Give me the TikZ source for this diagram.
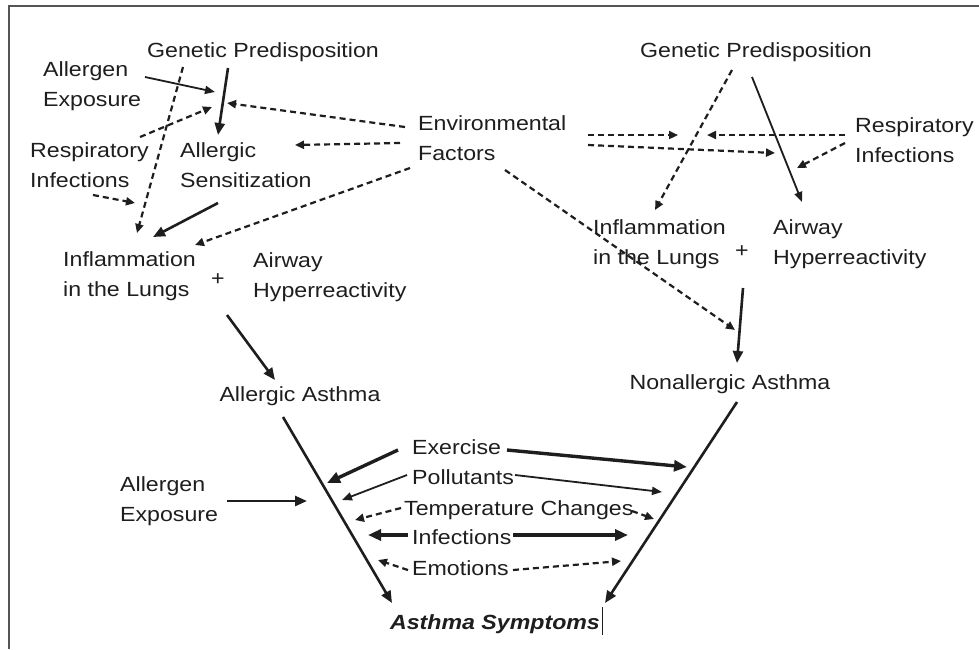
\documentclass[tikz,border=0pt]{standalone}
\usepackage{fontspec}
\setmainfont{Liberation Sans}[FakeStretch=1.13]
\usetikzlibrary{arrows.meta}
\definecolor{ink}{HTML}{1E1E1E}
\definecolor{frame}{HTML}{555555}
\begin{document}
\begin{tikzpicture}[x=1pt,y=-1pt,
  lbl/.style={inner sep=0pt,text=ink,font=\fontsize{20.5}{29.5}\selectfont},
  lbll/.style={lbl,align=left,anchor=west},
  thk/.style={draw=ink,line width=3.4pt,-{Triangle[length=13pt,width=11pt]}},
  med/.style={draw=ink,line width=2.6pt,-{Triangle[length=12pt,width=10pt]}},
  thn/.style={draw=ink,line width=1.8pt,-{Triangle[length=10pt,width=8pt]}},
  dsh/.style={draw=ink,line width=2.2pt,dash pattern=on 6pt off 4pt,-{Triangle[length=9pt,width=8pt]}}]
\useasboundingbox (0,0) rectangle (979,649);
\fill[white] (0,0) rectangle (979,649);
\draw[frame,line width=2.5pt] (979,6) -- (9,6) -- (9,649);

% nodes
\node[lbl] (GP1) at (263,52) {Genetic Predisposition};
\node[lbll] (AE1) at (43,86) {Allergen\\Exposure};
\node[lbll] (RI1) at (30,165) {Respiratory\\Infections};
\node[lbll] (AS) at (180,165) {Allergic\\Sensitization};
\node[lbll] (EF) at (418,138) {Environmental\\Factors};
\node[lbll] (IL1) at (63,276) {Inflammation\\in the Lungs};
\node[lbl] (P1) at (218,280) {+};
\node[lbll] (AH1) at (253,277) {Airway\\Hyperreactivity};
\node[lbl] (AA) at (300,396) {Allergic Asthma};
\node[lbl] (GP2) at (756,52) {Genetic Predisposition};
\node[lbll] (RI2) at (855,140) {Respiratory\\Infections};
\node[lbll] (IL2) at (593,244) {Inflammation\\in the Lungs};
\node[lbl] (P2) at (742,252) {+};
\node[lbll] (AH2) at (773,244) {Airway\\Hyperreactivity};
\node[lbl] (NA) at (730,384) {Nonallergic Asthma};
\node[lbll] (AE2) at (120,501) {Allergen\\Exposure};
\node[lbll] (EX) at (412,447) {Exercise};
\node[lbll] (PO) at (412,477) {Pollutants};
\node[lbll] (TC) at (404,510) {Temperature Changes};
\node[lbll] (IN) at (412,537) {Infections};
\node[lbll] (EM) at (412,568) {Emotions};
\node[lbl,font=\fontsize{20.5}{29.5}\selectfont\bfseries\itshape] (SY) at (495,624) {Asthma Symptoms};

% connector end points
\coordinate (a1s) at (228,68);  \coordinate (a1e) at (218,135);
\coordinate (a2s) at (145,77);  \coordinate (a2e) at (215,92);
\coordinate (a3s) at (405,127); \coordinate (a3e) at (227,103);
\coordinate (a4s) at (400,143); \coordinate (a4e) at (295,145);
\coordinate (a5s) at (410,168); \coordinate (a5e) at (195,245);
\coordinate (a6s) at (140,137); \coordinate (a6e) at (212,107);
\coordinate (a7s) at (183,67);  \coordinate (a7e) at (137,233);
\coordinate (a8s) at (93,195);  \coordinate (a8e) at (135,203);
\coordinate (a9s) at (218,203); \coordinate (a9e) at (153,237);
\coordinate (a10s) at (227,315); \coordinate (a10e) at (275,380);
\coordinate (a11s) at (283,417); \coordinate (a11e) at (392,603);
\coordinate (a12s) at (227,501); \coordinate (a12e) at (307,501);
\coordinate (a13s) at (398,450); \coordinate (a13e) at (327,483);
\coordinate (a14s) at (407,475); \coordinate (a14e) at (342,500);
\coordinate (a15s) at (401,508); \coordinate (a15e) at (355,520);
\coordinate (a16s) at (408,535); \coordinate (a16e) at (368,535);
\coordinate (a17s) at (408,570); \coordinate (a17e) at (378,560);
\coordinate (a18s) at (507,450); \coordinate (a18e) at (687,467);
\coordinate (a19s) at (515,475); \coordinate (a19e) at (662,492);
\coordinate (a20s) at (632,511); \coordinate (a20e) at (654,519);
\coordinate (a21s) at (513,535); \coordinate (a21e) at (628,535);
\coordinate (a22s) at (513,570); \coordinate (a22e) at (621,561);
\coordinate (a23s) at (737,402); \coordinate (a23e) at (605,603);
\coordinate (a24s) at (743,288); \coordinate (a24e) at (737,363);
\coordinate (a25s) at (505,170); \coordinate (a25e) at (735,330);
\coordinate (a26s) at (752,77);  \coordinate (a26e) at (802,202);
\coordinate (a27s) at (732,70);  \coordinate (a27e) at (655,210);
\coordinate (a28s) at (588,135); \coordinate (a28e) at (678,135);
\coordinate (a29s) at (588,145); \coordinate (a29e) at (775,153);
\coordinate (a30s) at (845,135); \coordinate (a30e) at (707,135);
\coordinate (a31s) at (845,143); \coordinate (a31e) at (797,168);
\coordinate (cur1) at (602,607); \coordinate (cur2) at (602,635);

% connectors
\draw[med] (a1s) -- (a1e);
\draw[thn] (a2s) -- (a2e);
\draw[dsh] (a3s) -- (a3e);
\draw[dsh] (a4s) -- (a4e);
\draw[dsh] (a5s) -- (a5e);
\draw[dsh] (a6s) -- (a6e);
\draw[dsh] (a7s) -- (a7e);
\draw[dsh] (a8s) -- (a8e);
\draw[med] (a9s) -- (a9e);
\draw[med] (a10s) -- (a10e);
\draw[med] (a11s) -- (a11e);
\draw[med] (a12s) -- (a12e);
\draw[thk] (a13s) -- (a13e);
\draw[thn] (a14s) -- (a14e);
\draw[dsh] (a15s) -- (a15e);
\draw[thk] (a16s) -- (a16e);
\draw[dsh] (a17s) -- (a17e);
\draw[thk] (a18s) -- (a18e);
\draw[thn] (a19s) -- (a19e);
\draw[dsh] (a20s) -- (a20e);
\draw[thk] (a21s) -- (a21e);
\draw[dsh] (a22s) -- (a22e);
\draw[med] (a23s) -- (a23e);
\draw[med] (a24s) -- (a24e);
\draw[dsh] (a25s) -- (a25e);
\draw[thn] (a26s) -- (a26e);
\draw[dsh] (a27s) -- (a27e);
\draw[dsh] (a28s) -- (a28e);
\draw[dsh] (a29s) -- (a29e);
\draw[dsh] (a30s) -- (a30e);
\draw[dsh] (a31s) -- (a31e);
\draw[ink,line width=1pt] (cur1) -- (cur2);
\end{tikzpicture}
\end{document}
